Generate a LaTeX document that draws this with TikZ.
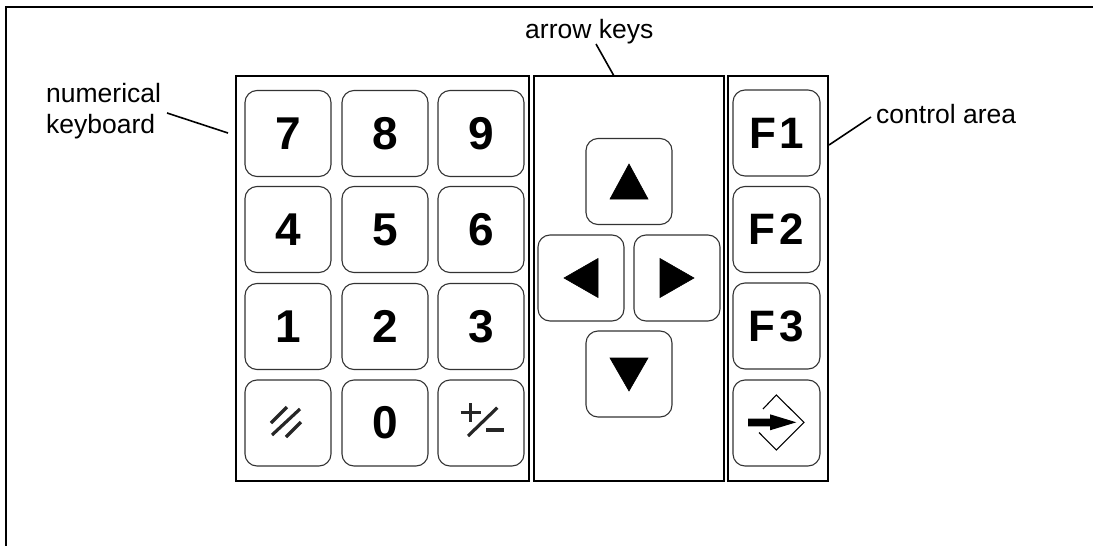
\documentclass[tikz,border=0pt]{standalone}
\usepackage{fontspec}
\setmainfont{Liberation Sans}
\begin{document}
\begin{tikzpicture}[x=1pt,y=-1pt,
  panel/.style={draw=black, line width=2.8pt, rectangle, minimum height=405pt, inner sep=0pt},
  keybox/.style={draw=black!80, line width=1.1pt, rectangle, rounded corners=12pt,
     minimum width=86pt, minimum height=86pt, inner sep=0pt,
     font=\fontsize{46}{50}\selectfont\bfseries},
  fkey/.style={keybox, minimum width=87pt, font=\fontsize{44}{50}\selectfont\bfseries},
  lbl/.style={inner sep=0pt, anchor=base west, font=\fontsize{26.5}{31}\selectfont},
  leader/.style={draw=black, line width=1.6pt},
  glyph/.style={line width=3.2pt, black!85},
  tri/.style={fill=black, draw=black, line width=0.6pt, line join=miter}
]
\useasboundingbox (0,0) rectangle (1093,546);
% outer frame (partly visible)
\draw[line width=2.2pt] (6,546) -- (6,7) -- (1093,7);

% panels
\node[panel, minimum width=293pt] (pnum) at (382.5,278.5) {};
\node[panel, minimum width=190pt] (parr) at (629,278.5) {};
\node[panel, minimum width=100pt] (pctl) at (778,278.5) {};

% numerical keys
\node[keybox] (k7) at (288,133.5) {7};
\node[keybox] (k8) at (385,133.5) {8};
\node[keybox] (k9) at (481,133.5) {9};
\node[keybox] (k4) at (288,229.5) {4};
\node[keybox] (k5) at (385,229.5) {5};
\node[keybox] (k6) at (481,229.5) {6};
\node[keybox] (k1) at (288,326.5) {1};
\node[keybox] (k2) at (385,326.5) {2};
\node[keybox] (k3) at (481,326.5) {3};
\node[keybox] (kcl) at (288,423) {};
\node[keybox] (k0) at (385,423) {0};
\node[keybox] (kpm) at (481,423) {};
% // glyph
\draw[glyph] (271,423) -- (287,407);
\draw[glyph] (272,435) -- (300,409);
\draw[glyph] (286,437) -- (301,422);
% +/- glyph
\draw[glyph] (460.7,412.3) -- (480.7,412.3);
\draw[glyph] (470.7,403.3) -- (470.7,421.7);
\draw[glyph] (468,436) -- (497.3,407.7);
\draw[glyph] (486.3,430) -- (503.7,430);

% arrow keys
\node[keybox] (kup) at (629,181.5) {};
\node[keybox] (klt) at (581,278) {};
\node[keybox] (krt) at (677,278) {};
\node[keybox] (kdn) at (629,374) {};
\draw[tri] (629,164) -- (648,199) -- (610,199) -- cycle;
\draw[tri] (564,278) -- (598,258.5) -- (598,297.5) -- cycle;
\draw[tri] (694,278) -- (660,258.5) -- (660,297.5) -- cycle;
\draw[tri] (629,391) -- (648,358) -- (610,358) -- cycle;

% control keys
\node[fkey] (f1) at (776.5,133) {F\kern3pt 1};
\node[fkey] (f2) at (776.5,229.5) {F\kern4pt 2};
\node[fkey] (f3) at (776.5,326) {F\kern4pt 3};
\node[fkey] (kent) at (776.5,423) {};
% enter glyph
\draw[line width=1.1pt] (763,409) -- (776.3,395) -- (804,422.3) -- (776.3,450) -- (759,432.5);
\fill[black] (748,418.5) -- (770,418.5) -- (770,414.3) -- (796.3,422.3) -- (770,430.3) -- (770,426.3) -- (748,426.3) -- cycle;

% labels
\node[lbl] (lnum1) at (46,102) {numerical};
\node[lbl] (lnum2) at (46,133) {keyboard};
\node[lbl] (larr) at (525,38) {arrow keys};
\node[lbl] (lctl) at (876,123) {control area};

% leaders
\coordinate (cnA) at (167,113);
\coordinate (cnB) at (228,133);
\coordinate (caA) at (596,44);
\coordinate (caB) at (614,76);
\coordinate (ccA) at (871,117);
\coordinate (ccB) at (829,145);
\draw[leader] (cnA) -- (cnB);
\draw[leader] (caA) -- (caB);
\draw[leader] (ccA) -- (ccB);
\end{tikzpicture}
\end{document}
